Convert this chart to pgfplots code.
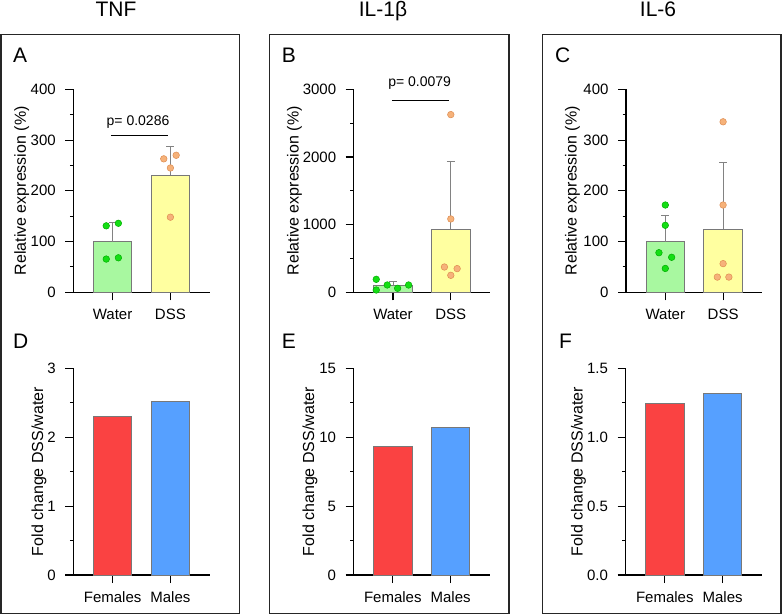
\documentclass[border=0pt]{standalone}
\usepackage{pgfplots}
\pgfplotsset{compat=1.18}
\usepackage{fontspec}
\setmainfont{Liberation Sans}
\definecolor{wfill}{RGB}{168,248,160}
\definecolor{dfill}{RGB}{255,255,160}
\definecolor{gdot}{RGB}{20,222,20}
\definecolor{gdotedge}{RGB}{0,175,0}
\definecolor{odot}{RGB}{246,178,122}
\definecolor{odotedge}{RGB}{222,140,80}
\definecolor{femred}{RGB}{250,66,66}
\definecolor{maleblue}{RGB}{86,160,255}
\definecolor{bargray}{RGB}{120,120,120}
\definecolor{errgray}{RGB}{130,130,130}
\pgfplotsset{
  gp/.style={
    scale only axis, width=136.4pt,
    xmin=-0.68, xmax=1.68, ymin=0,
    axis x line*=bottom, axis y line*=left,
    axis line style={line width=1.1pt, black, -},
    xtick={0,1}, tick align=outside,
    major tick length=8pt, minor tick length=3.5pt,
    minor y tick num=1,
    tick style={line width=1.1pt, black},
    tick label style={font=\fontsize{15}{17}\selectfont},
    yticklabel style={xshift=-6pt},
    xticklabel style={yshift=-5pt},
    /pgf/number format/assume math mode=true,
    /pgf/number format/1000 sep={},
    clip=false,
  },
  top/.style={gp, height=203pt, xticklabels={Water,DSS}},
  bot/.style={gp, height=206.7pt, xticklabels={Females,Males}},
  ebars/.style={error bars/.cd, y dir=plus, y explicit,
    error bar style={line width=1pt, color=errgray},
    error mark options={rotate=90, mark size=4pt, line width=1pt, color=errgray}},
  wbar/.style={ybar, bar width=0.666, fill=wfill, draw=bargray, line width=0.8pt, ebars},
  dbar/.style={ybar, bar width=0.666, fill=dfill, draw=bargray, line width=0.8pt, ebars},
  gpts/.style={only marks, mark=*, mark size=3.3pt, mark options={fill=gdot, draw=gdotedge, line width=0.5pt}},
  opts/.style={only marks, mark=*, mark size=3.3pt, mark options={fill=odot, draw=odotedge, line width=0.5pt}},
  fbar/.style={ybar, bar width=0.666, fill=femred, draw=bargray, line width=0.8pt},
  mbar/.style={ybar, bar width=0.666, fill=maleblue, draw=bargray, line width=0.8pt},
}
\begin{document}
\begin{tikzpicture}
\fill[white] (0,0) rectangle (782pt,-615pt);
\path[use as bounding box] (0,0) rectangle (782pt,-615pt);
% frames
\draw[line width=1.2pt, black!85] (1pt,-34.3pt) rectangle (239.3pt,-613.3pt);
\draw[line width=1.2pt, black!85] (269.7pt,-34.3pt) rectangle (509pt,-613.3pt);
\draw[line width=1.2pt, black!85] (542.3pt,-34.3pt) rectangle (781pt,-613.3pt);
% titles
\node[anchor=base, font=\fontsize{21}{24}\selectfont, inner sep=0] at (116pt,-16.7pt) {TNF};
\node[anchor=base, font=\fontsize{21}{24}\selectfont, inner sep=0] at (383pt,-16.7pt) {IL-1β};
\node[anchor=base, font=\fontsize{21}{24}\selectfont, inner sep=0] at (658pt,-16.7pt) {IL-6};
% panel letters
\foreach \l/\x/\y in {A/13/63, B/281.7/63, C/555/63, D/13/348.5, E/281.7/348.5, F/559/348.5}
  \node[anchor=base west, font=\fontsize{21}{24}\selectfont, inner sep=0] at (\x pt,-\y pt) {\l};
% y labels
\foreach \x in {21.7, 294.5, 572.5}
  \node[rotate=90, font=\fontsize{16}{18}\selectfont, inner sep=0] at (\x pt,-190.8pt) {Relative expression (\%)};
\foreach \x in {39, 310, 578.5}
  \node[rotate=90, font=\fontsize{16}{18}\selectfont, inner sep=0] at (\x pt,-471.7pt) {Fold change DSS/water};

% A
\begin{axis}[top, at={(73.3pt,-292.3pt)}, anchor=south west, ymax=400, ytick={0,100,200,300,400}]
\addplot[wbar] coordinates {(0,100) +- (0,38)};
\addplot[dbar] coordinates {(1,230.5) +- (0,57)};
\addplot[gpts] coordinates {(-0.11,131) (0.10,136) (-0.11,65.5) (0.10,68)};
\addplot[opts] coordinates {(0.885,263) (1.10,270) (1,245) (1,148)};
\addplot[black, line width=1pt] coordinates {(-0.03,308.6) (0.95,308.6)};
\node[font=\fontsize{14}{16}\selectfont] at (axis cs:0.44,336) {p= 0.0286};
\end{axis}

% B
\begin{axis}[top, at={(353.7pt,-292.3pt)}, anchor=south west, ymax=3000, ytick={0,1000,2000,3000}]
\addplot[wbar] coordinates {(0,100) +- (0,57)};
\addplot[dbar] coordinates {(1,931) +- (0,1005)};
\addplot[gpts] coordinates {(-0.29,192) (-0.29,34) (-0.10,108) (0.08,59) (0.27,108)};
\addplot[opts] coordinates {(1,2626) (1,1084) (0.89,374) (1.11,350) (1,251)};
\addplot[black, line width=1pt] coordinates {(-0.02,2837) (0.97,2837)};
\node[font=\fontsize{14}{16}\selectfont] at (axis cs:0.46,3093) {p= 0.0079};
\end{axis}

% C
\begin{axis}[top, at={(626pt,-292.3pt)}, anchor=south west, ymax=400, ytick={0,100,200,300,400}]
\addplot[wbar] coordinates {(0,100) +- (0,51)};
\addplot[dbar] coordinates {(1,124) +- (0,131.5)};
\addplot[gpts] coordinates {(0,172) (0,132) (-0.11,78) (0.11,69) (0,47)};
\addplot[opts] coordinates {(1,336) (1,172) (1,56.5) (0.9,30) (1.1,30)};
\end{axis}

% D
\begin{axis}[bot, at={(73.3pt,-575pt)}, anchor=south west, ymax=3, ytick={0,1,2,3}]
\addplot[fbar] coordinates {(0,2.302)};
\addplot[mbar] coordinates {(1,2.525)};
\end{axis}

% E
\begin{axis}[bot, at={(353.5pt,-575pt)}, anchor=south west, ymax=15, ytick={0,5,10,15}]
\addplot[fbar] coordinates {(0,9.31)};
\addplot[mbar] coordinates {(1,10.72)};
\end{axis}

% F
\begin{axis}[bot, at={(625.5pt,-575pt)}, anchor=south west, ymax=1.5, ytick={0,0.5,1,1.5},
  yticklabel style={/pgf/number format/.cd, fixed, fixed zerofill, precision=1}]
\addplot[fbar] coordinates {(0,1.246)};
\addplot[mbar] coordinates {(1,1.319)};
\end{axis}
\end{tikzpicture}
\end{document}
